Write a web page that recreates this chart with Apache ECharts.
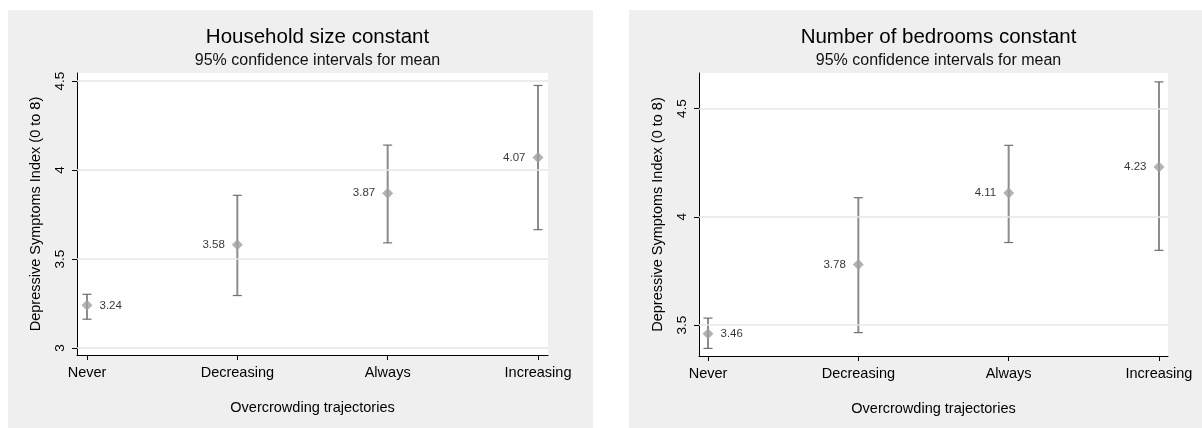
<!DOCTYPE html>
<html>
<head>
<meta charset="utf-8">
<script src="https://cdn.jsdelivr.net/npm/echarts@6/dist/echarts.min.js"></script>
<style>
html,body{margin:0;padding:0;background:#fff;}
#c{width:1202px;height:428px;}
</style>
</head>
<body>
<div id="c"></div>
<script>
const categories = ['Never', 'Decreasing', 'Always', 'Increasing'];
const hhMean = [3.24, 3.58, 3.87, 4.07];
const hhLow = [3.162, 3.295, 3.591, 3.665];
const hhHigh = [3.302, 3.858, 4.140, 4.475];
const bedMean = [3.46, 3.78, 4.11, 4.23];
const bedLow = [3.392, 3.465, 3.881, 3.845];
const bedHigh = [3.532, 4.088, 4.330, 4.623];
const yTicksLeft = [3, 3.5, 4, 4.5];
const yTicksRight = [3.5, 4, 4.5];
const xTicks = [0, 1, 2, 3];
const titles = ['Household size constant', 'Number of bedrooms constant'];
const subtitle = '95% confidence intervals for mean';
const yName = 'Depressive Symptoms Index (0 to 8)';
const xName = 'Overcrowding trajectories';

const FONT = '"Liberation Sans", Arial, sans-serif';
const chart = echarts.init(document.getElementById('c'), null, {renderer: 'canvas'});

const grids = [
  {left: 77, top: 73, width: 471, height: 282},
  {left: 699, top: 73, width: 469, height: 283}
];
const yRanges = [[2.961, 4.545], [3.357, 4.664]];
const xRanges = [[-0.0665, 3.0665], [-0.06, 3.06]];
const yTicks = [yTicksLeft, yTicksRight];
const means = [hhMean, bedMean];
const lows = [hhLow, bedLow];
const highs = [hhHigh, bedHigh];

function errRender(params, api) {
  const x = api.value(0);
  const lo = api.coord([x, api.value(1)]);
  const hi = api.coord([x, api.value(2)]);
  const w = 4.5;
  return {
    type: 'group',
    children: [
      {type: 'line', shape: {x1: lo[0], y1: lo[1], x2: hi[0], y2: hi[1]}, style: {stroke: '#8c8c8c', lineWidth: 2}},
      {type: 'line', shape: {x1: lo[0] - w, y1: lo[1], x2: lo[0] + w, y2: lo[1]}, style: {stroke: '#707070', lineWidth: 1.2}},
      {type: 'line', shape: {x1: hi[0] - w, y1: hi[1], x2: hi[0] + w, y2: hi[1]}, style: {stroke: '#707070', lineWidth: 1.2}}
    ]
  };
}

const titleArr = [], xAxes = [], yAxes = [], series = [];
[0, 1].forEach(k => {
  const g = grids[k];
  const cx = g.left + g.width / 2;
  titleArr.push({text: titles[k], left: cx, top: 22, textAlign: 'center',
    textStyle: {fontFamily: FONT, fontSize: 20.5, fontWeight: 'normal', color: '#000'}});
  titleArr.push({text: subtitle, left: cx, top: 48, textAlign: 'center',
    textStyle: {fontFamily: FONT, fontSize: 16, fontWeight: 'normal', color: '#111'}});
  xAxes.push({
    gridIndex: k, type: 'value', min: xRanges[k][0], max: xRanges[k][1],
    name: xName, nameLocation: 'middle', nameGap: 45,
    nameTextStyle: {fontFamily: FONT, fontSize: 14.5, color: '#000'},
    axisLine: {show: true, onZero: false, lineStyle: {color: '#000', width: 1}},
    axisTick: {show: true, customValues: xTicks, length: 5, lineStyle: {color: '#000', width: 1}},
    axisLabel: {show: true, customValues: xTicks, margin: 10, fontFamily: FONT, fontSize: 14.5, color: '#000',
      formatter: v => categories[Math.round(v)]},
    splitLine: {show: false}
  });
  yAxes.push({
    gridIndex: k, type: 'value', min: yRanges[k][0], max: yRanges[k][1],
    name: yName, nameLocation: 'middle', nameGap: 34, nameRotate: 90,
    nameTextStyle: {fontFamily: FONT, fontSize: 14.5, color: '#000'},
    axisLine: {show: true, onZero: false, lineStyle: {color: '#000', width: 1}},
    axisTick: {show: true, customValues: yTicks[k], length: 5, lineStyle: {color: '#000', width: 1}},
    axisLabel: {show: true, customValues: yTicks[k], rotate: 90, margin: 10, fontFamily: FONT, fontSize: 13.5, color: '#000',
      formatter: v => String(v)},
    splitLine: {show: false}
  });
  series.push({
    type: 'scatter', xAxisIndex: k, yAxisIndex: k, data: [], z: 1, silent: true,
    markLine: {silent: true, symbol: 'none', label: {show: false},
      lineStyle: {color: '#e6e6e6', width: 1.5, type: 'solid'}, animation: false,
      data: yTicks[k].map(v => ({yAxis: v}))}
  });
  series.push({
    type: 'custom', xAxisIndex: k, yAxisIndex: k, z: 2, silent: true,
    renderItem: errRender,
    data: categories.map((c, i) => [i, lows[k][i], highs[k][i]])
  });
  series.push({
    type: 'scatter', xAxisIndex: k, yAxisIndex: k, z: 3, silent: true,
    symbol: 'diamond', symbolSize: [11, 11],
    itemStyle: {color: '#a0a0a0'},
    label: {show: true, fontFamily: FONT, fontSize: 11.5, color: '#000',
      formatter: p => p.value[1].toFixed(2)},
    data: categories.map((c, i) => ({
      value: [i, means[k][i]],
      label: {position: i === 0 ? 'right' : 'left', distance: 7}
    }))
  });
});

chart.setOption({
  animation: false,
  backgroundColor: '#fff',
  graphic: [
    {type: 'rect', shape: {x: 8, y: 10, width: 585, height: 418}, style: {fill: '#efefef'}, z: -10, silent: true},
    {type: 'rect', shape: {x: 629, y: 10, width: 573, height: 418}, style: {fill: '#efefef'}, z: -10, silent: true}
  ],
  title: titleArr,
  grid: grids.map(g => Object.assign({show: true, backgroundColor: '#fff', borderWidth: 0}, g)),
  xAxis: xAxes,
  yAxis: yAxes,
  series: series
});
</script>
</body>
</html>
